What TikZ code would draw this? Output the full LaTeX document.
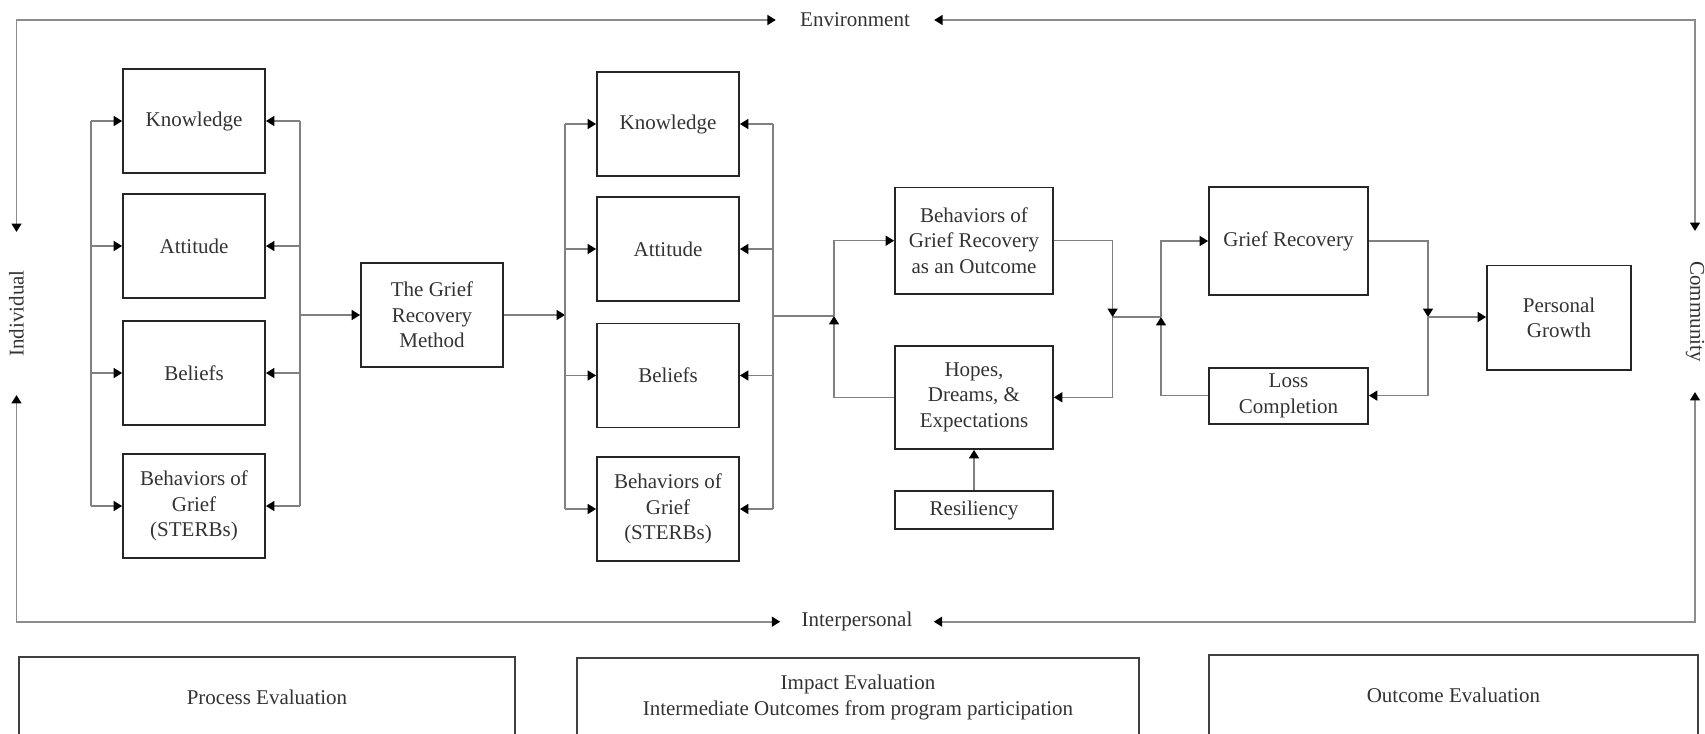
\documentclass[tikz,border=0pt]{standalone}
\usepackage{fontspec}
\setmainfont{Liberation Serif}
\usetikzlibrary{arrows.meta}
\begin{document}
\begin{tikzpicture}[x=0.5pt,y=-0.5pt,
  font=\fontsize{10.5}{12.8}\selectfont,
  every node/.style={text=black!80},
  box/.style={draw=black!85, line width=0.9pt, align=center, inner sep=1pt},
  cell/.style={box, minimum width=71pt, minimum height=52pt},
  link/.style={draw=black!50, line width=0.65pt},
  arr/.style={-{Triangle[length=4.2pt,width=5pt,color=black]}},
  arrs/.style={{Triangle[length=4.2pt,width=5pt,color=black]}-{Triangle[length=4.2pt,width=5pt,color=black]}},
  ring/.style={draw=black!45, line width=0.8pt},
  evalbox/.style={draw=black!75, line width=0.9pt, align=center}]
\useasboundingbox (0,0) rectangle (1705,734);
% outer frame labels
\node [inner xsep=12pt] (env) at (855,20) {Environment};
\node [inner xsep=10.5pt] (inter) at (857,621.7) {Interpersonal};
\node [rotate=90, inner xsep=19pt] (indiv) at (16.5,313.5) {Individual};
\node [rotate=-90, inner xsep=15pt] (comm) at (1695,311.5) {Community};
\draw[ring,arrs] (indiv.east) |- (env.west);
\draw[ring,arrs] (comm.west) |- (env.east);
\draw[ring,arrs] (indiv.west) |- (inter.west);
\draw[ring,arrs] (comm.east) |- (inter.east);
% first column
\node [cell] (K1) at (194,121) {Knowledge};
\node [cell] (A1) at (194,246) {Attitude};
\node [cell] (B1) at (194,373) {Beliefs};
\node [cell] (S1) at (194,506) {Behaviors of\\Grief\\(STERBs)};
\node [cell] (GRM) at (432,315) {The Grief\\Recovery\\Method};
% second column
\node [cell] (K2) at (668,124) {Knowledge};
\node [cell] (A2) at (668,249) {Attitude};
\node [cell] (B2) at (668,375.5) {Beliefs};
\node [cell] (S2) at (668,509) {Behaviors of\\Grief\\(STERBs)};
% outcomes
\node [box, minimum width=79pt, minimum height=53.3pt] (BGRO) at (974,240.7) {Behaviors of\\Grief Recovery\\as an Outcome};
\node [box, minimum width=79pt, minimum height=51.7pt] (HDE) at (974,397.3) {Hopes,\\Dreams, \&\\Expectations};
\node [box, minimum width=79pt, minimum height=19.3pt] (Res) at (974,510) {Resiliency};
\node [box, minimum width=79.5pt, minimum height=53.8pt] (GR) at (1288.5,241) {Grief Recovery};
\node [box, minimum width=79.5pt, minimum height=28pt] (LC) at (1288.5,395.6) {Loss\\Completion};
\node [box, minimum width=72pt, minimum height=52.3pt] (PG) at (1559,317.7) {Personal\\Growth};
% bus lines and junctions
\coordinate (bl1) at (91,315);
\coordinate (br1) at (300,315);
\coordinate (bl2) at (565,315);
\coordinate (br2) at (773,315);
\coordinate (j1) at (834,316);
\coordinate (r1) at (1112.6,317);
\coordinate (j2) at (1161,317);
\coordinate (r2) at (1428,317);
\foreach \n in {K1,A1,B1,S1} {
  \draw[link,arr] (bl1 |- \n) -- (\n.west);
  \draw[link,arr] (br1 |- \n) -- (\n.east);
}
\draw[link] (bl1 |- K1) -- (bl1 |- S1);
\draw[link] (br1 |- K1) -- (br1 |- S1);
\draw[link,arr] (br1) -- (GRM.west);
\draw[link,arr] (GRM.east) -- (bl2);
\foreach \n in {K2,A2,B2,S2} {
  \draw[link,arr] (bl2 |- \n) -- (\n.west);
  \draw[link,arr] (br2 |- \n) -- (\n.east);
}
\draw[link] (bl2 |- K2) -- (bl2 |- S2);
\draw[link] (br2 |- K2) -- (br2 |- S2);
\draw[link] (br2) -- (br2 |- j1) -- (j1);
\draw[link,arr] (j1) |- (BGRO.west);
\draw[link,arr] (HDE.west) -| (j1);
\draw[link,arr] (BGRO.east) -| (r1);
\draw[link,arr] (r1) |- (HDE.east);
\draw[link,arr] (Res.north) -- (HDE.south);
\draw[link] (r1) -- (j2);
\draw[link,arr] (j2) |- (GR.west);
\draw[link,arr] (LC.west) -| (j2);
\draw[link,arr] (GR.east) -| (r2);
\draw[link,arr] (r2) |- (LC.east);
\draw[link,arr] (r2) -- (r2 -| PG.west);
% evaluation boxes
\node [evalbox, minimum width=248pt, minimum height=40pt] (proc) at (267,697) {Process Evaluation};
\node [evalbox, minimum width=280.8pt, minimum height=39.6pt] (imp) at (858,697.4) {Impact Evaluation\\Intermediate Outcomes from program participation};
\node [evalbox, minimum width=244.4pt, minimum height=41.2pt] (outc) at (1453.4,695.8) {Outcome Evaluation};
\end{tikzpicture}
\end{document}
